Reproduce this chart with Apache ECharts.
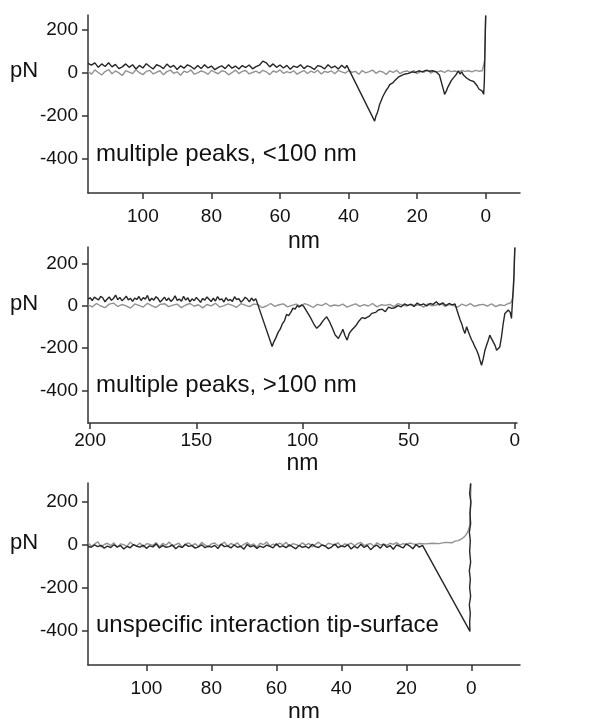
<!DOCTYPE html>
<html>
<head>
<meta charset="utf-8">
<script src="https://cdn.jsdelivr.net/npm/echarts@6/dist/echarts.min.js"></script>
<style>html,body{margin:0;padding:0;background:#fff;}#c{width:613px;height:718px;}</style>
</head>
<body>
<div id="c"></div>
<script>
// ---------- data (nm, pN) ----------
const yTicks = [200, 0, -200, -400];
const xTicks1 = [0, 20, 40, 60, 80, 100];
const xTicks2 = [0, 50, 100, 150, 200];
const xTicks3 = [0, 20, 40, 60, 80, 100];
const panelLabels = ['multiple peaks, <100 nm', 'multiple peaks, >100 nm', 'unspecific interaction tip-surface'];

const p1Approach = [[116,8],[115,-6],[114,14],[113,2],[112,-10],[111,6],[110,16],[109,-4],[108,9],[107,0],[106,-12],[105,11],[104,4],[103,-3],[102,15],[101,1],[100,-8],[99,7],[98,12],[97,-5],[96,3],[95,10],[94,-9],[93,6],[92,13],[91,-2],[90,5],[89,-11],[88,8],[87,2],[86,14],[85,-6],[84,0],[83,9],[82,4],[81,-7],[80,12],[79,3],[78,-4],[77,10],[76,6],[75,-9],[74,1],[73,13],[72,-3],[71,7],[70,11],[69,-5],[68,2],[67,8],[66,-1],[65,12],[64,5],[63,-8],[62,9],[61,3],[60,14],[59,-2],[58,6],[57,0],[56,10],[55,-6],[54,4],[53,11],[52,-3],[51,8],[50,1],[49,13],[48,-5],[47,7],[46,2],[45,9],[44,-4],[43,12],[42,5],[41,-1],[40,10],[39,3],[38,7],[37,-6],[36,11],[35,0],[34,6],[33,13],[32,-2],[31,8],[30,4],[29,-7],[28,10],[27,2],[26,12],[25,-3],[24,6],[23,9],[22,1],[21,11],[20,-4],[19,7],[18,3],[17,14],[16,-1],[15,8],[14,5],[13,10],[12,2],[11,12],[10,6],[9,9],[8,4],[7,11],[6,7],[5,10],[4,5],[3,12],[2,8],[1,10],[0.5,15],[0.3,60],[0.2,150],[0.1,220],[0,268]];

const p1Retract = [[0,268],[0.1,200],[0.2,120],[0.3,40],[0.4,-40],[0.6,-100],[1,-85],[1.5,-80],[2,-75],[2.5,-60],[3,-55],[3.5,-40],[4,-48],[4.5,-35],[5,-30],[5.5,-25],[6,-18],[6.5,-10],[7,5],[7.5,-5],[8,10],[8.5,-5],[9,-15],[9.5,-20],[10,-35],[10.5,-50],[11,-65],[11.5,-85],[12,-100],[12.3,-80],[13.5,-10],[14.5,5],[15.5,10],[16.5,8],[17.5,12],[18.5,5],[19.5,10],[20.5,2],[21.5,5],[22.5,-2],[23.5,-5],[24.5,-12],[25.5,-20],[26,-25],[26.5,-35],[27,-45],[27.5,-40],[28,-55],[28.5,-70],[29,-80],[29.5,-95],[30,-110],[30.5,-130],[31,-150],[31.3,-170],[31.7,-190],[32,-200],[32.4,-225],[32.6,-232],[40.5,35],[41,22],[42,36],[43,18],[44,32],[45,24],[46,38],[47,19],[48,30],[49,34],[50,16],[51,27],[52,33],[53,20],[54,38],[55,26],[56,32],[57,17],[58,35],[59,23],[60,37],[61,26],[62,42],[63,28],[64,47],[65,55],[66,36],[67,29],[68,19],[69,37],[70,25],[71,34],[72,18],[73,32],[74,22],[75,38],[76,20],[77,33],[78,26],[79,15],[80,32],[81,23],[82,38],[83,20],[84,35],[85,18],[86,30],[87,38],[88,22],[89,33],[90,16],[91,35],[92,26],[93,41],[94,20],[95,32],[96,38],[97,18],[98,30],[99,43],[100,23],[101,35],[102,18],[103,38],[104,26],[105,42],[106,28],[107,20],[108,40],[109,28],[110,47],[111,30],[112,42],[113,26],[114,47],[115,36],[116,44]];

const p2Approach = [[201,6],[199,-4],[197,12],[195,0],[193,-8],[191,9],[189,14],[187,-2],[185,7],[183,1],[181,-10],[179,10],[177,3],[175,-5],[173,13],[171,2],[169,-7],[167,8],[165,11],[163,-3],[161,4],[159,9],[157,-8],[155,5],[153,12],[151,-1],[149,6],[147,-9],[145,7],[143,1],[141,13],[139,-5],[137,2],[135,10],[133,3],[131,-6],[129,11],[127,4],[125,-3],[123,9],[121,7],[119,-8],[117,0],[115,12],[113,-2],[111,6],[109,10],[107,-4],[105,3],[103,9],[101,0],[99,11],[97,4],[95,-7],[93,8],[91,2],[89,13],[87,-1],[85,5],[83,1],[81,9],[79,-5],[77,3],[75,10],[73,-2],[71,7],[69,0],[67,12],[65,-4],[63,6],[61,3],[59,8],[57,-3],[55,11],[53,4],[51,0],[49,9],[47,2],[45,6],[43,-5],[41,10],[39,1],[37,5],[35,12],[33,-1],[31,7],[29,3],[27,-6],[25,9],[23,1],[21,11],[19,-2],[17,5],[15,8],[13,0],[11,10],[9,-3],[7,6],[5,2],[3,12],[2,15],[1.5,25],[1,40],[0.7,70],[0.5,120],[0.3,180],[0.1,240],[0,278]];

const p2Retract = [[0,278],[0.2,230],[0.4,150],[0.8,76],[1.2,10],[1.6,-59],[2.2,-30],[3.1,-19],[3.8,-28],[4.7,-35],[5.5,-83],[6.3,-146],[7.1,-194],[7.8,-200],[8.6,-210],[9.3,-188],[10.2,-170],[11,-155],[11.8,-138],[12.6,-165],[13.3,-185],[14.1,-210],[14.9,-250],[15.7,-281],[16.5,-255],[17.2,-230],[18,-210],[18.8,-194],[19.6,-175],[20.4,-160],[21.2,-140],[21.9,-122],[22.7,-98],[23.5,-130],[24.3,-110],[25,-85],[25.8,-65],[26.6,-40],[27.4,-15],[28.2,10],[29.5,5],[31,12],[32.5,2],[34,15],[35.5,5],[37,20],[38.5,8],[40,12],[41.5,0],[43,10],[44.5,4],[46,14],[47.5,-2],[49,8],[50.5,3],[52,10],[53.5,-4],[55,2],[56.5,-8],[58,-11],[59.5,-5],[61,-27],[62.5,-15],[64.3,-19],[65.5,-30],[67.4,-35],[68.5,-48],[70.5,-59],[72,-55],[73.7,-75],[75,-95],[76.8,-114],[78,-130],[79,-162],[80,-140],[81,-110],[81.5,-122],[83.1,-154],[84.6,-138],[86.2,-98],[87.5,-70],[88.6,-51],[90.1,-67],[91.7,-90],[93.3,-106],[94.8,-83],[96.5,-50],[98,-25],[99.5,0],[100.5,5],[101.5,-5],[102.5,2],[103.5,-15],[104.5,-10],[105.5,-30],[106.5,-45],[107.5,-40],[108.5,-70],[109.5,-85],[110.5,-110],[111.5,-125],[112.5,-150],[113.5,-170],[114.3,-192],[122,35],[123,25],[124,38],[125,20],[126,33],[127,42],[128,27],[129,18],[130,35],[131,30],[132,44],[133,22],[134,31],[135,26],[136,40],[137,19],[138,34],[139,29],[140,45],[141,24],[142,37],[143,21],[144,32],[145,43],[146,28],[147,36],[148,17],[149,30],[150,41],[151,25],[152,34],[153,20],[154,39],[155,28],[156,46],[157,23],[158,33],[159,27],[160,48],[161,31],[162,22],[163,38],[164,26],[165,42],[166,30],[167,19],[168,35],[169,44],[170,28],[171,37],[172,24],[173,50],[174,33],[175,40],[176,26],[177,45],[178,31],[179,38],[180,22],[181,36],[182,29],[183,47],[184,34],[185,25],[186,41],[187,30],[188,52],[189,36],[190,27],[191,43],[192,32],[193,20],[194,38],[195,46],[196,29],[197,35],[198,42],[199,26],[200,39],[201,33]];

const p3Approach = [[118,12],[117,-6],[116,4],[115,15],[114,-9],[113,2],[112,8],[111,-3],[110,10],[109,-12],[108,5],[107,1],[106,-7],[105,13],[104,0],[103,-4],[102,9],[101,-10],[100,6],[99,3],[98,-2],[97,11],[96,-8],[95,7],[94,-1],[93,14],[92,-5],[91,2],[90,8],[89,-11],[88,4],[87,10],[86,-3],[85,6],[84,-7],[83,12],[82,0],[81,-9],[80,5],[79,9],[78,-4],[77,2],[76,13],[75,-6],[74,7],[73,-1],[72,10],[71,-8],[70,3],[69,11],[68,-2],[67,5],[66,-10],[65,8],[64,1],[63,14],[62,-5],[61,4],[60,-3],[59,9],[58,0],[57,12],[56,-7],[55,6],[54,2],[53,-4],[52,10],[51,-1],[50,7],[49,-9],[48,3],[47,13],[46,0],[45,-6],[44,8],[43,4],[42,-2],[41,11],[40,-8],[39,5],[38,1],[37,9],[36,-4],[35,6],[34,12],[33,-3],[32,2],[31,7],[30,-6],[29,10],[28,0],[27,4],[26,-2],[25,8],[24,3],[23,11],[22,-1],[21,6],[20,2],[19,9],[18,5],[17,3],[16,7],[14,5],[12,8],[10,6],[8,12],[6,10],[5,18],[4,20],[3,28],[2,40],[1.5,50],[1,65],[0.7,80],[0.5,90],[0.3,150],[0.2,220],[0.1,288]];

const p3Retract = [[0.2,288],[0.5,240],[0.1,200],[0.4,150],[0.2,100],[0.6,60],[0.3,20],[0.5,-30],[0.2,-80],[0.6,-120],[0.3,-160],[0.5,-200],[0.2,-240],[0.6,-280],[0.3,-320],[0.5,-360],[0.4,-405],[15,-2],[16,-10],[17,2],[18,-18],[19,-4],[20,5],[21,-14],[22,-7],[23,0],[24,-20],[25,-3],[26,-11],[27,4],[28,-16],[29,-1],[30,-8],[31,-22],[32,-2],[33,-12],[34,3],[35,-15],[36,-6],[37,-19],[38,1],[39,-9],[40,-4],[41,-13],[42,5],[43,-10],[44,-17],[45,-5],[46,0],[47,-12],[48,-8],[49,3],[50,-15],[51,-6],[52,-11],[53,-2],[54,-18],[55,-9],[56,1],[57,-13],[58,-4],[59,-10],[60,6],[61,-14],[62,-7],[63,-1],[64,-12],[65,-5],[66,-16],[67,-3],[68,-9],[69,2],[70,-20],[71,-6],[72,-11],[73,0],[74,-14],[75,-4],[76,-8],[77,4],[78,-17],[79,-2],[80,-10],[81,-6],[82,-13],[83,1],[84,-9],[85,-15],[86,-3],[87,-7],[88,3],[89,-12],[90,-5],[91,-18],[92,0],[93,-8],[94,-11],[95,-2],[96,-14],[97,5],[98,-9],[99,-4],[100,-16],[101,-1],[102,-10],[103,-6],[104,2],[105,-13],[106,-7],[107,-19],[108,-3],[109,-9],[110,1],[111,-12],[112,-5],[113,-15],[114,-2],[115,-8],[116,0],[117,-11],[118,-6]];

// ---------- chart ----------
const FONT = '"Liberation Sans", Arial, Helvetica, sans-serif';
const TXT = '#111';
const AX = '#333';
const DARK = '#262626';
const LIGHT = '#929292';

const grids = [
  {left: 88, top: 15, width: 432, height: 178, outerBoundsMode: 'none', containLabel: false},
  {left: 88, top: 247, width: 429, height: 176, outerBoundsMode: 'none', containLabel: false},
  {left: 88, top: 483, width: 432, height: 182, outerBoundsMode: 'none', containLabel: false}
];
const xRanges = [[-10, 116], [-1, 201], [-15, 118]];
const yRanges = [[-560, 270], [-555, 280], [-562, 290]];
const xTickSets = [xTicks1, xTicks2, xTicks3];
const xLabelMargins = [14, 8, 14];
const nameGaps = [37, 29, 36];

function xAxisFor(i) {
  return {
    gridIndex: i, type: 'value', inverse: true,
    min: xRanges[i][0], max: xRanges[i][1],
    axisLine: {show: true, onZero: false, lineStyle: {color: AX, width: 1.5}},
    axisTick: {show: true, inside: false, length: 6, customValues: xTickSets[i], lineStyle: {color: AX, width: 1.5}},
    axisLabel: {show: true, customValues: xTickSets[i], margin: xLabelMargins[i], fontSize: 19, color: TXT, fontFamily: FONT},
    splitLine: {show: false},
    name: 'nm', nameLocation: 'middle', nameGap: nameGaps[i],
    nameTextStyle: {fontSize: 23, color: TXT, fontFamily: FONT}
  };
}
function yAxisFor(i) {
  return {
    gridIndex: i, type: 'value',
    min: yRanges[i][0], max: yRanges[i][1],
    axisLine: {show: true, onZero: false, lineStyle: {color: AX, width: 1.5}},
    axisTick: {show: true, inside: false, length: 6, customValues: yTicks, lineStyle: {color: AX, width: 1.5}},
    axisLabel: {show: true, customValues: yTicks, margin: 10, fontSize: 19, color: TXT, fontFamily: FONT},
    splitLine: {show: false}
  };
}
function lineSeries(i, data, color) {
  return {
    type: 'line', xAxisIndex: i, yAxisIndex: i, data: data,
    showSymbol: false, symbol: 'none', smooth: false,
    lineStyle: {color: color, width: 1.4}, itemStyle: {color: color},
    silent: true, animation: false, clip: true
  };
}

const pNY = [73, 306, 545];
const labelY = [156, 387, 627];
const graphics = [];
for (let i = 0; i < 3; i++) {
  graphics.push({type: 'text', left: 10, top: pNY[i] - 13, style: {text: 'pN', font: '22px ' + FONT, fill: TXT}});
  graphics.push({type: 'text', left: 96, top: labelY[i] - 14, style: {text: panelLabels[i], font: '24px ' + FONT, fill: TXT}});
}

const option = {
  backgroundColor: '#fff',
  animation: false,
  grid: grids,
  xAxis: [0, 1, 2].map(xAxisFor),
  yAxis: [0, 1, 2].map(yAxisFor),
  series: [
    lineSeries(0, p1Approach, LIGHT), lineSeries(0, p1Retract, DARK),
    lineSeries(1, p2Approach, LIGHT), lineSeries(1, p2Retract, DARK),
    lineSeries(2, p3Approach, LIGHT), lineSeries(2, p3Retract, DARK)
  ],
  graphic: graphics
};
const chart = echarts.init(document.getElementById('c'), null, {renderer: 'canvas'});
chart.setOption(option);
</script>
</body>
</html>
